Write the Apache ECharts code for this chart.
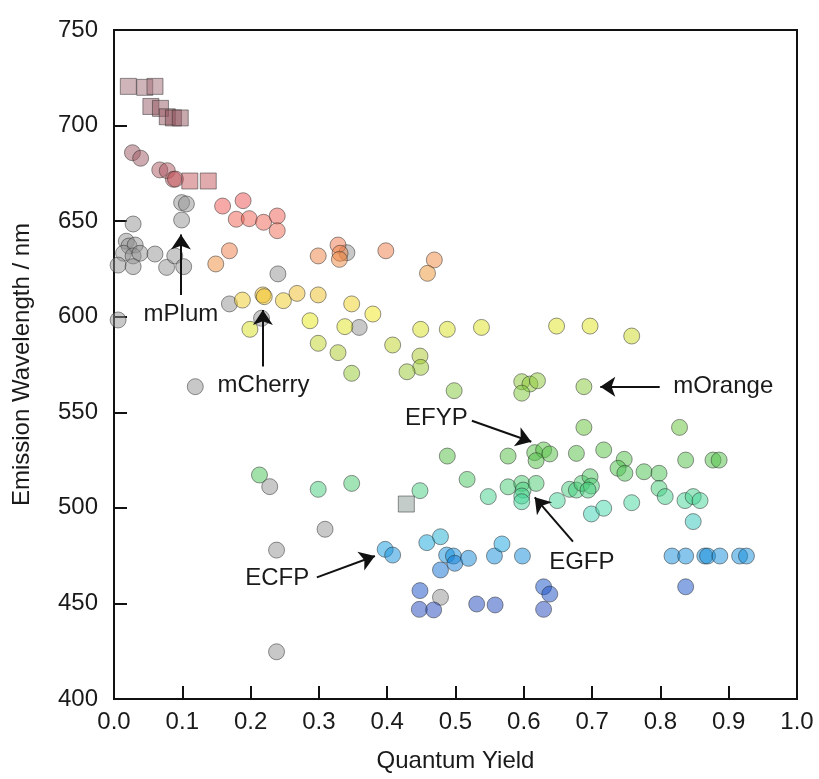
<!DOCTYPE html>
<html>
<head>
<meta charset="utf-8">
<script src="https://cdn.jsdelivr.net/npm/echarts@6/dist/echarts.min.js"></script>
<style>html,body{margin:0;padding:0;background:#fff}#c{width:819px;height:779px}</style>
</head>
<body>
<div id="c"></div>
<script>
// ---- data ----
const xTicks = [0.0,0.1,0.2,0.3,0.4,0.5,0.6,0.7,0.8,0.9,1.0];
const yTicks = [400,450,500,550,600,650,700,750];

// coloured circles: quantum yield / emission wavelength
const circleQY = [0.027,0.039,0.067,0.078,0.087,0.090,
  0.159,0.189,0.179,0.198,0.219,0.239,0.239,
  0.169,0.149,0.299,0.328,0.331,0.330,0.398,0.469,0.459,
  0.188,0.218,0.220,0.248,0.268,0.299,
  0.199,0.287,0.348,0.379,0.338,0.449,0.488,0.538,0.648,0.697,0.758,
  0.299,0.328,0.408,0.448,0.449,0.429,0.348,
  0.498,0.597,0.609,0.620,0.597,0.688,
  0.688,0.828,
  0.488,0.577,0.616,0.629,0.638,0.618,0.677,0.717,0.747,0.738,0.748,0.776,0.798,0.837,0.877,0.886,
  0.213,0.299,0.348,0.448,0.517,0.548,0.577,0.597,0.599,0.597,0.597,0.618,0.649,0.667,0.677,0.685,0.697,0.699,0.694,0.699,0.717,0.758,0.798,0.807,0.836,0.848,0.858,0.848,
  0.397,0.408,0.458,0.478,0.487,0.497,0.499,0.519,0.478,0.557,0.568,0.598,0.817,0.837,0.865,0.869,0.887,0.916,0.926,
  0.448,0.447,0.468,0.531,0.558,0.629,0.638,0.629,0.837];
const circleWL = [685.8,682.9,676.8,676.4,671.9,672.0,
  657.9,660.7,651.0,651.3,649.4,652.7,645.0,
  634.5,627.6,631.8,637.5,633.2,630.0,634.5,629.7,622.7,
  608.7,611.4,610.5,608.4,612.2,611.4,
  593.4,597.9,606.7,601.4,594.8,593.4,593.4,594.4,595.1,595.1,589.9,
  586.1,581.2,585.2,579.4,573.5,571.2,570.4,
  561.3,566.0,564.8,566.5,560.0,563.4,
  542.1,542.1,
  527.1,527.1,528.9,530.3,528.2,524.7,528.5,530.3,525.4,520.7,518.1,518.9,518.1,525.0,525.0,525.0,
  517.2,509.7,512.8,509.0,514.9,505.9,511.0,512.8,509.3,506.2,503.2,512.8,503.8,509.7,509.3,512.8,516.3,511.4,509.3,496.8,499.8,502.7,510.2,505.9,503.8,505.9,503.8,492.8,
  478.3,475.3,481.8,484.9,475.3,474.8,471.0,473.6,467.5,474.8,481.1,474.8,474.8,474.8,474.8,474.8,474.8,474.8,474.8,
  456.7,446.9,446.6,449.7,449.2,458.7,454.9,446.9,458.7];

// coloured squares
const squareQY = [0.021,0.045,0.060,0.054,0.068,0.078,0.087,0.097,0.111,0.138];
const squareWL = [720.5,720.0,720.5,710.0,709.0,704.6,704.0,704.0,671.0,671.0];

// grey (dim) circles
const greyQY = [0.028,0.018,0.022,0.031,0.014,0.028,0.038,0.006,0.028,0.060,0.077,0.089,0.102,
  0.099,0.099,0.106,0.240,0.169,0.216,0.006,0.119,0.238,0.309,0.238,0.228,0.359,0.341,0.478];
const greyWL = [648.5,639.5,637.0,637.5,633.2,631.8,633.2,627.0,626.2,632.8,625.8,631.8,626.2,
  650.6,659.7,659.0,622.4,606.7,599.2,598.3,563.4,477.9,488.8,424.7,511.1,594.4,633.5,453.2];

// grey square
const greySquareQY = [0.428];
const greySquareWL = [502.0];

// annotations
const annotNames = ['mPlum','mCherry','mOrange','EFYP','EGFP','ECFP'];
const annotTextQY = [0.098,0.219,0.892,0.472,0.685,0.239];
const annotTextWL = [601.4,564.3,563.4,546.8,471.3,463.1];
const arrowFromQY = [0.098,0.218,0.799,0.524,0.672,0.297];
const arrowFromWL = [611.4,574.0,563.4,545.6,482.3,463.6];
const arrowToQY   = [0.098,0.218,0.712,0.611,0.616,0.382];
const arrowToWL   = [643.0,603.5,563.4,534.6,505.5,474.8];

// ---- chart ----
const zip = (a,b) => a.map((v,i)=>[v,b[i]]);
const FONT = "'Liberation Sans', Arial, sans-serif";
const pointStyle = {opacity:0.5, borderColor:'#2a2a2a', borderWidth:1};

const chart = echarts.init(document.getElementById('c'), null, {renderer:'canvas'});
chart.setOption({
  animation:false,
  backgroundColor:'#fff',
  grid:{left:114, right:22, top:30, bottom:80, show:true, borderColor:'#111', borderWidth:2, backgroundColor:'transparent'},
  xAxis:{
    type:'value', min:xTicks[0], max:xTicks[xTicks.length-1], interval:0.1,
    name:'Quantum Yield', nameLocation:'middle', nameGap:50,
    nameTextStyle:{fontFamily:FONT, fontSize:24, color:'#1a1a1a'},
    axisLine:{show:true, onZero:false, lineStyle:{color:'#111', width:2}},
    axisTick:{show:true, inside:true, length:13, lineStyle:{color:'#111', width:2}},
    axisLabel:{fontFamily:FONT, fontSize:24, color:'#1a1a1a', margin:11, formatter:v=>v.toFixed(1)},
    splitLine:{show:false}
  },
  yAxis:{
    type:'value', min:yTicks[0], max:yTicks[yTicks.length-1], interval:50,
    name:'Emission Wavelength / nm', nameLocation:'middle', nameGap:80,
    nameTextStyle:{fontFamily:FONT, fontSize:24, color:'#1a1a1a'},
    axisLine:{show:true, onZero:false, lineStyle:{color:'#111', width:2}},
    axisTick:{show:true, inside:true, length:13, lineStyle:{color:'#111', width:2}},
    axisLabel:{fontFamily:FONT, fontSize:24, color:'#1a1a1a', margin:16},
    splitLine:{show:false}
  },
  visualMap:{
    show:false, type:'continuous', dimension:1, min:420, max:720, seriesIndex:[0,1],
    inRange:{color:['#68688f','#2a40b4','#1050c8','#10a0e0','#40d8a8','#48c048','#60c038','#7cc838','#a8c828','#f0ec18','#ec9c2c','#ef7050','#ef5050','#a05a64','#8c4a54','#a06c76']}
  },
  series:[
    {type:'scatter', name:'fluorescent', symbol:'circle', symbolSize:16, data:zip(circleQY,circleWL), itemStyle:pointStyle, z:3},
    {type:'scatter', name:'far-red', symbol:'rect', symbolSize:16, data:zip(squareQY,squareWL), itemStyle:pointStyle, z:3},
    {type:'scatter', name:'dim', symbol:'circle', symbolSize:16, data:zip(greyQY,greyWL), itemStyle:Object.assign({color:'#929292'},pointStyle), z:2},
    {type:'scatter', name:'dim-square', symbol:'rect', symbolSize:16, data:zip(greySquareQY,greySquareWL), itemStyle:Object.assign({color:'#8a9a96'},pointStyle), z:2},
    {type:'scatter', name:'annotations', symbolSize:1, silent:true, z:5,
      itemStyle:{color:'rgba(0,0,0,0)', opacity:1},
      data:annotNames.map((n,i)=>({name:n, value:[annotTextQY[i], annotTextWL[i]]})),
      label:{show:true, position:'inside', formatter:'{b}', fontFamily:FONT, fontSize:24, color:'#1a1a1a', textBorderWidth:0, opacity:1},
      markLine:{
        silent:true, animation:false, symbol:['none','arrow'], symbolSize:15, precision:3,
        lineStyle:{color:'#111', width:2, type:'solid', opacity:1},
        itemStyle:{color:'#111'},
        label:{show:false},
        emphasis:{disabled:true},
        data:annotNames.map((n,i)=>[{coord:[arrowFromQY[i], arrowFromWL[i]]},{coord:[arrowToQY[i], arrowToWL[i]]}])
      }
    }
  ]
});
</script>
</body>
</html>
